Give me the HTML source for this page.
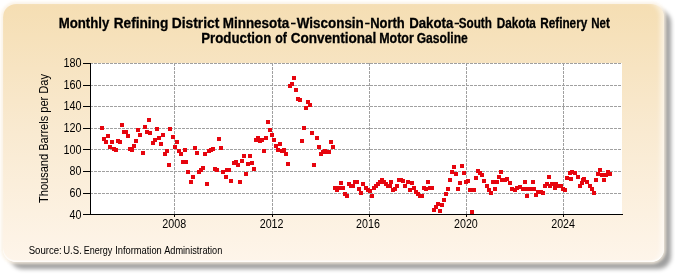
<!DOCTYPE html>
<html><head><meta charset="utf-8">
<style>
html,body{margin:0;padding:0;width:675px;height:275px;overflow:hidden;background:#fff;}
.panel{position:absolute;left:3px;top:4px;width:660.5px;height:258px;border-radius:13px;
 background:linear-gradient(to bottom,#F5DEB3 0%,#F9EAD1 50%,#FEF5EA 100%);
 box-shadow:0 0 3px 1.5px rgba(250,240,225,0.8), 7px 6.5px 4px rgba(0,0,0,0.38), inset -6px 0 4px -2px rgba(255,255,255,0.5), inset 0 -1.5px 1px rgba(255,255,255,0.7);}
svg{position:absolute;left:0;top:0;will-change:transform;}
text{font-family:"Liberation Sans",sans-serif;fill:#000;}
.t{font-size:14px;font-weight:bold;stroke:#000;stroke-width:0.3px;}
.ax{font-size:12px;}
</style></head><body>
<div class="panel"></div>
<svg width="675" height="275" viewBox="0 0 675 275">
<rect x="91" y="63" width="531" height="151" fill="#fff"/>
<g stroke="#A0A0A0" stroke-width="1" stroke-dasharray="3,1" fill="none">
<path stroke-dashoffset="1" d="M91 63.5H622M91 85.5H622M91 106.5H622M91 128.5H622M91 149.5H622M91 171.5H622M91 193.5H622"/>
<path d="M174.5 63V214M272.5 63V214M369.5 63V214M466.5 63V214M563.5 63V214"/>
</g>
<g fill="#E6050E"><rect x="100" y="126" width="4" height="4"/><rect x="102" y="137" width="4" height="4"/><rect x="104" y="140" width="4" height="4"/><rect x="106" y="134" width="4" height="4"/><rect x="108" y="145" width="4" height="4"/><rect x="110" y="140" width="4" height="4"/><rect x="112" y="147" width="4" height="4"/><rect x="114" y="148" width="4" height="4"/><rect x="116" y="139" width="4" height="4"/><rect x="118" y="140" width="4" height="4"/><rect x="120" y="123" width="4" height="4"/><rect x="122" y="130" width="4" height="4"/><rect x="124" y="130" width="4" height="4"/><rect x="126" y="134" width="4" height="4"/><rect x="128" y="147" width="4" height="4"/><rect x="130" y="148" width="4" height="4"/><rect x="132" y="144" width="4" height="4"/><rect x="134" y="139" width="4" height="4"/><rect x="136" y="128" width="4" height="4"/><rect x="138" y="133" width="4" height="4"/><rect x="141" y="151" width="4" height="4"/><rect x="143" y="125" width="4" height="4"/><rect x="145" y="130" width="4" height="4"/><rect x="147" y="118" width="4" height="4"/><rect x="148" y="131" width="4" height="4"/><rect x="151" y="141" width="4" height="4"/><rect x="153" y="138" width="4" height="4"/><rect x="155" y="127" width="4" height="4"/><rect x="157" y="136" width="4" height="4"/><rect x="159" y="142" width="4" height="4"/><rect x="161" y="133" width="4" height="4"/><rect x="163" y="152" width="4" height="4"/><rect x="165" y="149" width="4" height="4"/><rect x="167" y="163" width="4" height="4"/><rect x="168" y="127" width="4" height="4"/><rect x="171" y="135" width="4" height="4"/><rect x="173" y="145" width="4" height="4"/><rect x="175" y="140" width="4" height="4"/><rect x="177" y="149" width="4" height="4"/><rect x="179" y="152" width="4" height="4"/><rect x="181" y="160" width="4" height="4"/><rect x="183" y="148" width="4" height="4"/><rect x="184" y="160" width="4" height="4"/><rect x="186" y="170" width="4" height="4"/><rect x="189" y="180" width="4" height="4"/><rect x="191" y="175" width="4" height="4"/><rect x="193" y="146" width="4" height="4"/><rect x="195" y="151" width="4" height="4"/><rect x="197" y="170" width="4" height="4"/><rect x="199" y="168" width="4" height="4"/><rect x="201" y="166" width="4" height="4"/><rect x="203" y="152" width="4" height="4"/><rect x="205" y="182" width="4" height="4"/><rect x="207" y="149" width="4" height="4"/><rect x="209" y="148" width="4" height="4"/><rect x="211" y="147" width="4" height="4"/><rect x="213" y="167" width="4" height="4"/><rect x="215" y="168" width="4" height="4"/><rect x="217" y="137" width="4" height="4"/><rect x="219" y="146" width="4" height="4"/><rect x="221" y="170" width="4" height="4"/><rect x="224" y="175" width="4" height="4"/><rect x="225" y="168" width="4" height="4"/><rect x="227" y="168" width="4" height="4"/><rect x="229" y="179" width="4" height="4"/><rect x="232" y="161" width="4" height="4"/><rect x="234" y="160" width="4" height="4"/><rect x="236" y="163" width="4" height="4"/><rect x="238" y="180" width="4" height="4"/><rect x="240" y="159" width="4" height="4"/><rect x="242" y="154" width="4" height="4"/><rect x="244" y="172" width="4" height="4"/><rect x="246" y="162" width="4" height="4"/><rect x="248" y="154" width="4" height="4"/><rect x="250" y="161" width="4" height="4"/><rect x="252" y="167" width="4" height="4"/><rect x="254" y="138" width="4" height="4"/><rect x="256" y="136" width="4" height="4"/><rect x="258" y="139" width="4" height="4"/><rect x="260" y="138" width="4" height="4"/><rect x="262" y="149" width="4" height="4"/><rect x="264" y="136" width="4" height="4"/><rect x="266" y="120" width="4" height="4"/><rect x="268" y="128" width="4" height="4"/><rect x="270" y="133" width="4" height="4"/><rect x="272" y="138" width="4" height="4"/><rect x="274" y="144" width="4" height="4"/><rect x="276" y="148" width="4" height="4"/><rect x="278" y="142" width="4" height="4"/><rect x="280" y="149" width="4" height="4"/><rect x="282" y="148" width="4" height="4"/><rect x="284" y="152" width="4" height="4"/><rect x="286" y="162" width="4" height="4"/><rect x="288" y="84" width="4" height="4"/><rect x="290" y="82" width="4" height="4"/><rect x="292" y="76" width="4" height="4"/><rect x="294" y="88" width="4" height="4"/><rect x="296" y="97" width="4" height="4"/><rect x="298" y="98" width="4" height="4"/><rect x="300" y="139" width="4" height="4"/><rect x="302" y="126" width="4" height="4"/><rect x="304" y="106" width="4" height="4"/><rect x="306" y="100" width="4" height="4"/><rect x="308" y="103" width="4" height="4"/><rect x="310" y="131" width="4" height="4"/><rect x="312" y="163" width="4" height="4"/><rect x="315" y="136" width="4" height="4"/><rect x="317" y="145" width="4" height="4"/><rect x="319" y="152" width="4" height="4"/><rect x="321" y="150" width="4" height="4"/><rect x="323" y="149" width="4" height="4"/><rect x="325" y="150" width="4" height="4"/><rect x="327" y="150" width="4" height="4"/><rect x="329" y="140" width="4" height="4"/><rect x="331" y="145" width="4" height="4"/><rect x="333" y="186" width="4" height="4"/><rect x="335" y="188" width="4" height="4"/><rect x="337" y="186" width="4" height="4"/><rect x="339" y="181" width="4" height="4"/><rect x="341" y="186" width="4" height="4"/><rect x="343" y="192" width="4" height="4"/><rect x="345" y="194" width="4" height="4"/><rect x="347" y="182" width="4" height="4"/><rect x="349" y="184" width="4" height="4"/><rect x="351" y="184" width="4" height="4"/><rect x="353" y="180" width="4" height="4"/><rect x="355" y="180" width="4" height="4"/><rect x="357" y="187" width="4" height="4"/><rect x="359" y="191" width="4" height="4"/><rect x="361" y="182" width="4" height="4"/><rect x="364" y="186" width="4" height="4"/><rect x="366" y="188" width="4" height="4"/><rect x="368" y="189" width="4" height="4"/><rect x="370" y="194" width="4" height="4"/><rect x="372" y="186" width="4" height="4"/><rect x="374" y="184" width="4" height="4"/><rect x="376" y="182" width="4" height="4"/><rect x="378" y="180" width="4" height="4"/><rect x="380" y="178" width="4" height="4"/><rect x="382" y="180" width="4" height="4"/><rect x="384" y="182" width="4" height="4"/><rect x="386" y="184" width="4" height="4"/><rect x="388" y="184" width="4" height="4"/><rect x="389" y="180" width="4" height="4"/><rect x="391" y="188" width="4" height="4"/><rect x="393" y="187" width="4" height="4"/><rect x="395" y="184" width="4" height="4"/><rect x="397" y="178" width="4" height="4"/><rect x="399" y="178" width="4" height="4"/><rect x="401" y="179" width="4" height="4"/><rect x="403" y="184" width="4" height="4"/><rect x="406" y="180" width="4" height="4"/><rect x="408" y="188" width="4" height="4"/><rect x="410" y="181" width="4" height="4"/><rect x="412" y="186" width="4" height="4"/><rect x="414" y="190" width="4" height="4"/><rect x="416" y="192" width="4" height="4"/><rect x="418" y="194" width="4" height="4"/><rect x="420" y="194" width="4" height="4"/><rect x="422" y="186" width="4" height="4"/><rect x="424" y="187" width="4" height="4"/><rect x="426" y="180" width="4" height="4"/><rect x="428" y="186" width="4" height="4"/><rect x="430" y="186" width="4" height="4"/><rect x="432" y="208" width="4" height="4"/><rect x="434" y="205" width="4" height="4"/><rect x="436" y="202" width="4" height="4"/><rect x="438" y="209" width="4" height="4"/><rect x="440" y="203" width="4" height="4"/><rect x="442" y="198" width="4" height="4"/><rect x="444" y="192" width="4" height="4"/><rect x="446" y="187" width="4" height="4"/><rect x="448" y="178" width="4" height="4"/><rect x="450" y="170" width="4" height="4"/><rect x="452" y="165" width="4" height="4"/><rect x="454" y="172" width="4" height="4"/><rect x="456" y="187" width="4" height="4"/><rect x="458" y="181" width="4" height="4"/><rect x="460" y="164" width="4" height="4"/><rect x="462" y="171" width="4" height="4"/><rect x="464" y="180" width="4" height="4"/><rect x="466" y="179" width="4" height="4"/><rect x="468" y="188" width="4" height="4"/><rect x="470" y="210" width="4" height="4"/><rect x="472" y="188" width="4" height="4"/><rect x="474" y="176" width="4" height="4"/><rect x="476" y="169" width="4" height="4"/><rect x="478" y="171" width="4" height="4"/><rect x="480" y="173" width="4" height="4"/><rect x="482" y="179" width="4" height="4"/><rect x="485" y="184" width="4" height="4"/><rect x="487" y="188" width="4" height="4"/><rect x="489" y="191" width="4" height="4"/><rect x="491" y="180" width="4" height="4"/><rect x="493" y="187" width="4" height="4"/><rect x="495" y="180" width="4" height="4"/><rect x="497" y="175" width="4" height="4"/><rect x="499" y="170" width="4" height="4"/><rect x="500" y="178" width="4" height="4"/><rect x="503" y="178" width="4" height="4"/><rect x="505" y="177" width="4" height="4"/><rect x="508" y="181" width="4" height="4"/><rect x="510" y="187" width="4" height="4"/><rect x="513" y="188" width="4" height="4"/><rect x="515" y="186" width="4" height="4"/><rect x="518" y="185" width="4" height="4"/><rect x="521" y="187" width="4" height="4"/><rect x="523" y="180" width="4" height="4"/><rect x="525" y="187" width="4" height="4"/><rect x="525" y="194" width="4" height="4"/><rect x="527" y="187" width="4" height="4"/><rect x="529" y="187" width="4" height="4"/><rect x="531" y="180" width="4" height="4"/><rect x="532" y="187" width="4" height="4"/><rect x="534" y="193" width="4" height="4"/><rect x="536" y="190" width="4" height="4"/><rect x="539" y="190" width="4" height="4"/><rect x="541" y="191" width="4" height="4"/><rect x="543" y="184" width="4" height="4"/><rect x="545" y="182" width="4" height="4"/><rect x="547" y="175" width="4" height="4"/><rect x="548" y="184" width="4" height="4"/><rect x="550" y="182" width="4" height="4"/><rect x="552" y="182" width="4" height="4"/><rect x="553" y="186" width="4" height="4"/><rect x="554" y="182" width="4" height="4"/><rect x="556" y="184" width="4" height="4"/><rect x="559" y="184" width="4" height="4"/><rect x="561" y="187" width="4" height="4"/><rect x="563" y="188" width="4" height="4"/><rect x="565" y="176" width="4" height="4"/><rect x="568" y="171" width="4" height="4"/><rect x="569" y="177" width="4" height="4"/><rect x="570" y="170" width="4" height="4"/><rect x="573" y="171" width="4" height="4"/><rect x="576" y="175" width="4" height="4"/><rect x="578" y="184" width="4" height="4"/><rect x="580" y="181" width="4" height="4"/><rect x="581" y="178" width="4" height="4"/><rect x="582" y="177" width="4" height="4"/><rect x="585" y="180" width="4" height="4"/><rect x="588" y="184" width="4" height="4"/><rect x="590" y="187" width="4" height="4"/><rect x="592" y="191" width="4" height="4"/><rect x="594" y="178" width="4" height="4"/><rect x="596" y="172" width="4" height="4"/><rect x="598" y="168" width="4" height="4"/><rect x="600" y="173" width="4" height="4"/><rect x="602" y="178" width="4" height="4"/><rect x="604" y="173" width="4" height="4"/><rect x="606" y="170" width="4" height="4"/><rect x="608" y="172" width="4" height="4"/></g>
<g stroke="#000" stroke-width="1" fill="none">
<path d="M90.5 63V215M90 214.5H623"/>
<path d="M83 63.5H90M83 85.5H90M83 106.5H90M83 128.5H90M83 149.5H90M83 171.5H90M83 193.5H90M83 214.5H90"/>
<path d="M174.5 214V217M272.5 214V217M369.5 214V217M466.5 214V217M563.5 214V217"/>
</g>
<g class="ax" text-anchor="end">
<text x="81.5" y="67.0" textLength="18.1" lengthAdjust="spacingAndGlyphs">180</text>
<text x="81.5" y="89.0" textLength="18.1" lengthAdjust="spacingAndGlyphs">160</text>
<text x="81.5" y="110.0" textLength="18.1" lengthAdjust="spacingAndGlyphs">140</text>
<text x="81.5" y="132.0" textLength="18.1" lengthAdjust="spacingAndGlyphs">120</text>
<text x="81.5" y="154.0" textLength="18.1" lengthAdjust="spacingAndGlyphs">100</text>
<text x="81.5" y="175.0" textLength="11.9" lengthAdjust="spacingAndGlyphs">80</text>
<text x="81.5" y="197.0" textLength="11.9" lengthAdjust="spacingAndGlyphs">60</text>
<text x="81.5" y="219.0" textLength="11.9" lengthAdjust="spacingAndGlyphs">40</text>
</g>
<g class="ax" text-anchor="middle">
<text x="174.2" y="227.8" textLength="23.8" lengthAdjust="spacingAndGlyphs">2008</text>
<text x="271.6" y="227.8" textLength="23.8" lengthAdjust="spacingAndGlyphs">2012</text>
<text x="368.0" y="227.8" textLength="23.8" lengthAdjust="spacingAndGlyphs">2016</text>
<text x="465.9" y="227.8" textLength="23.8" lengthAdjust="spacingAndGlyphs">2020</text>
<text x="563.1" y="227.8" textLength="23.8" lengthAdjust="spacingAndGlyphs">2024</text>
</g>
<text class="ax" transform="translate(48.3 138.5) rotate(-90)" text-anchor="middle" textLength="129" lengthAdjust="spacingAndGlyphs">Thousand Barrels per Day</text>
<g class="t">
<text x="58.70" y="28" textLength="50.61" lengthAdjust="spacingAndGlyphs">Monthly</text><text x="113.70" y="28" textLength="54.62" lengthAdjust="spacingAndGlyphs">Refining</text><text x="171.70" y="28" textLength="47.60" lengthAdjust="spacingAndGlyphs">District</text><text x="222.70" y="28" textLength="66.61" lengthAdjust="spacingAndGlyphs">Minnesota</text><rect x="291" y="22.7" width="4.6" height="1.6" fill="#000" stroke="none"/><text x="296.70" y="28" textLength="67.12" lengthAdjust="spacingAndGlyphs">Wisconsin</text><rect x="365.1" y="22.7" width="4.5" height="1.6" fill="#000" stroke="none"/><text x="370.20" y="28" textLength="34.58" lengthAdjust="spacingAndGlyphs">North</text><text x="409.20" y="28" textLength="44.11" lengthAdjust="spacingAndGlyphs">Dakota</text><rect x="454.6" y="22.7" width="4.5" height="1.6" fill="#000" stroke="none"/><text x="458.70" y="28" textLength="33.11" lengthAdjust="spacingAndGlyphs">South</text><text x="496.70" y="28" textLength="39.16" lengthAdjust="spacingAndGlyphs">Dakota</text><text x="540.20" y="28" textLength="47.09" lengthAdjust="spacingAndGlyphs">Refinery</text><text x="591.20" y="28" textLength="18.60" lengthAdjust="spacingAndGlyphs">Net</text>
<text x="201.20" y="43" textLength="70.09" lengthAdjust="spacingAndGlyphs">Production</text><text x="275.20" y="43" textLength="11.66" lengthAdjust="spacingAndGlyphs">of</text><text x="290.70" y="43" textLength="85.60" lengthAdjust="spacingAndGlyphs">Conventional</text><text x="379.20" y="43" textLength="34.66" lengthAdjust="spacingAndGlyphs">Motor</text><text x="416.70" y="43" textLength="51.11" lengthAdjust="spacingAndGlyphs">Gasoline</text>
</g>
<g style="font-size:10px"><text x="28.70" y="253.6" textLength="33.09" lengthAdjust="spacingAndGlyphs">Source:</text><text x="63.20" y="253.6" textLength="18.61" lengthAdjust="spacingAndGlyphs">U.S.</text><text x="83.70" y="253.6" textLength="28.65" lengthAdjust="spacingAndGlyphs">Energy</text><text x="115.20" y="253.6" textLength="46.61" lengthAdjust="spacingAndGlyphs">Information</text><text x="164.20" y="253.6" textLength="58.13" lengthAdjust="spacingAndGlyphs">Administration</text></g>
</svg>
</body></html>
